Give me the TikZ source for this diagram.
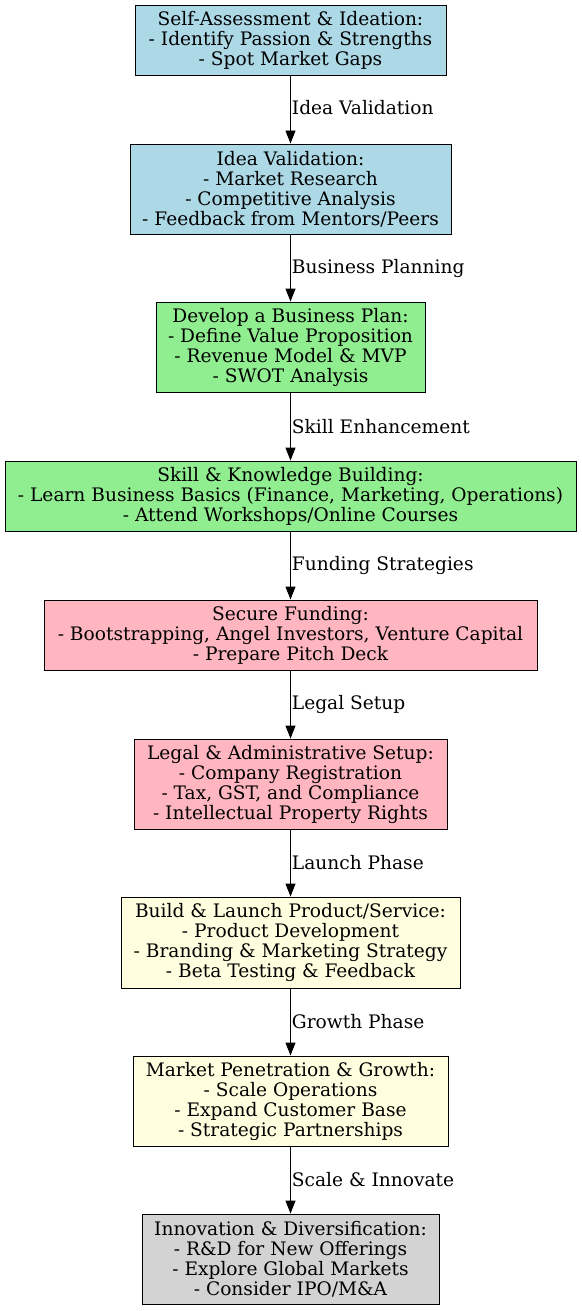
\documentclass[tikz,border=0pt]{standalone}
\usepackage{fontspec}
\setmainfont{DejaVu Serif}
\usetikzlibrary{arrows.meta}
\definecolor{stepblue}{HTML}{ADD8E6}
\definecolor{stepgreen}{HTML}{90EE90}
\definecolor{steppink}{HTML}{FFB6C1}
\definecolor{stepyellow}{HTML}{FFFFE0}
\definecolor{stepgray}{HTML}{D3D3D3}
\begin{document}
\begin{tikzpicture}[x=1pt,y=-1pt,
  stepbox/.style={draw=black, line width=0.9pt, align=center, inner xsep=4pt, inner ysep=0pt,
    font=\fontsize{18.6}{20}\selectfont},
  flow/.style={-{Triangle[length=13pt,width=10pt]}, line width=0.9pt},
  elabel/.style={right, inner sep=1pt, font=\fontsize{18.6}{20}\selectfont}]
\useasboundingbox (0,0) rectangle (581,1311);
\node[stepbox, fill=stepblue, minimum width=311pt, minimum height=70pt] (n1) at (290.5,40)
  {Self-Assessment \& Ideation:\\- Identify Passion \& Strengths\\- Spot Market Gaps};
\node[stepbox, fill=stepblue, minimum width=321pt, minimum height=90pt] (n2) at (290.5,189)
  {Idea Validation:\\- Market Research\\- Competitive Analysis\\- Feedback from Mentors/Peers};
\node[stepbox, fill=stepgreen, minimum width=269pt, minimum height=90pt] (n3) at (290.5,347)
  {Develop a Business Plan:\\- Define Value Proposition\\- Revenue Model \& MVP\\- SWOT Analysis};
\node[stepbox, fill=stepgreen, minimum width=571pt, minimum height=70pt] (n4) at (290.5,496)
  {Skill \& Knowledge Building:\\- Learn Business Basics (Finance, Marketing, Operations)\\- Attend Workshops/Online Courses};
\node[stepbox, fill=steppink, minimum width=493pt, minimum height=70pt] (n5) at (290.5,635)
  {Secure Funding:\\- Bootstrapping, Angel Investors, Venture Capital\\- Prepare Pitch Deck};
\node[stepbox, fill=steppink, minimum width=313pt, minimum height=90pt] (n6) at (290.5,784)
  {Legal \& Administrative Setup:\\- Company Registration\\- Tax, GST, and Compliance\\- Intellectual Property Rights};
\node[stepbox, fill=stepyellow, minimum width=339pt, minimum height=91pt] (n7) at (290.5,942.5)
  {Build \& Launch Product/Service:\\- Product Development\\- Branding \& Marketing Strategy\\- Beta Testing \& Feedback};
\node[stepbox, fill=stepyellow, minimum width=315pt, minimum height=90pt] (n8) at (290.5,1101)
  {Market Penetration \& Growth:\\- Scale Operations\\- Expand Customer Base\\- Strategic Partnerships};
\node[stepbox, fill=stepgray, minimum width=297pt, minimum height=90pt] (n9) at (290.5,1259)
  {Innovation \& Diversification:\\- R\&D for New Offerings\\- Explore Global Markets\\- Consider IPO/M\&A};
\draw[flow] (n1) -- node[elabel, yshift=1.5pt] {Idea Validation} (n2);
\draw[flow] (n2) -- node[elabel] {Business Planning} (n3);
\draw[flow] (n3) -- node[elabel] {Skill Enhancement} (n4);
\draw[flow] (n4) -- node[elabel] {Funding Strategies} (n5);
\draw[flow] (n5) -- node[elabel] {Legal Setup} (n6);
\draw[flow] (n6) -- node[elabel] {Launch Phase} (n7);
\draw[flow] (n7) -- node[elabel] {Growth Phase} (n8);
\draw[flow] (n8) -- node[elabel] {Scale \& Innovate} (n9);
\end{tikzpicture}
\end{document}
